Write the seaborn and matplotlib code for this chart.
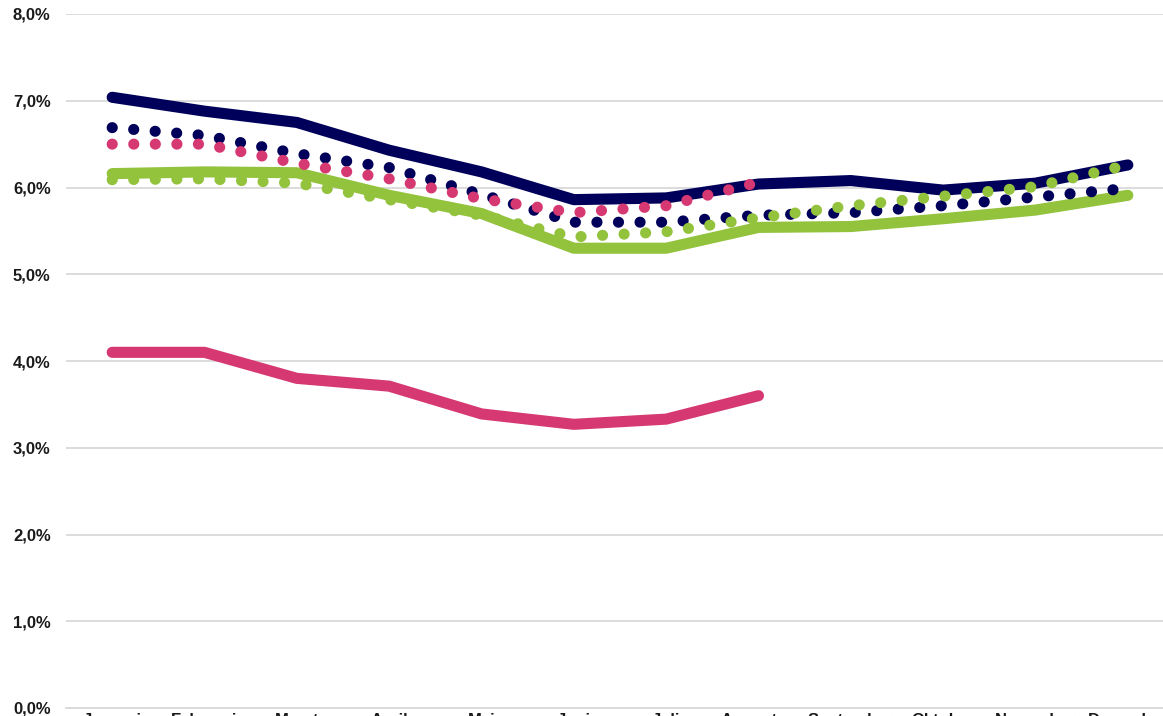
import numpy as np
import pandas as pd
import seaborn as sns
from matplotlib import pyplot as plt

# maanden (x-as)
maanden = ['Januari', 'Februari', 'Maart', 'April', 'Mei', 'Juni', 'Juli',
           'Augustus', 'September', 'Oktober', 'November', 'December']

# doorgetrokken lijnen (%)
navy_lijn = [7.04, 6.88, 6.75, 6.43, 6.18, 5.86, 5.88, 6.04, 6.08, 5.97, 6.05, 6.26]
groen_lijn = [6.16, 6.18, 6.17, 5.91, 5.70, 5.30, 5.30, 5.54, 5.55, 5.64, 5.74, 5.91]
roze_lijn = [4.10, 4.10, 3.80, 3.71, 3.39, 3.27, 3.33, 3.60]

# gestippelde lijnen (%)
navy_stip = [6.69, 6.60, 6.39, 6.23, 5.92, 5.60, 5.60, 5.68, 5.71, 5.79, 5.89, 5.99]
roze_stip = [6.50, 6.50, 6.28, 6.10, 5.87, 5.71, 5.79, 6.06]
groen_stip = [6.09, 6.10, 6.05, 5.86, 5.68, 5.43, 5.49, 5.65, 5.79, 5.90, 6.01, 6.26]

navy = '#00005a'
groen = '#93c23d'
roze = '#d63872'
grijs = '#d9d9d9'

sns.set_style('white')
plt.rcParams['font.family'] = ['Liberation Sans', 'DejaVu Sans']

fig = plt.figure(figsize=(11.63, 7.16), dpi=100)
ax = fig.add_axes([66 / 1163, 8 / 716, 1108 / 1163, 694 / 716])

pos = np.arange(len(maanden))
lw = 8
stip = (0, (0.01, 1.93))

series = [
    (navy_lijn, navy, '-'),
    (groen_lijn, groen, '-'),
    (roze_lijn, roze, '-'),
    (navy_stip, navy, stip),
    (roze_stip, roze, stip),
    (groen_stip, groen, stip),
]

for waarden, kleur, stijl in series:
    df = pd.DataFrame({'x': pos[:len(waarden)], 'y': waarden})
    sns.lineplot(data=df, x='x', y='y', ax=ax, color=kleur, linewidth=lw,
                 linestyle=stijl, sort=False, dash_capstyle='round',
                 solid_capstyle='round', solid_joinstyle='round')

ax.set_xlim(-0.5, 11.5)
ax.set_ylim(0, 8)

ax.set_yticks(range(0, 9))
ax.set_yticklabels([f'{v:.1f}%'.replace('.', ',') for v in range(0, 9)],
                   fontsize=12, fontweight='bold', color='#1a1a1a')
ax.set_xticks(pos)
ax.set_xticklabels(maanden, fontsize=12, fontweight='bold', color='#1a1a1a')
ax.set_xticks(np.arange(-0.5, 12, 1), minor=True)

ax.tick_params(axis='y', length=0, pad=11)
ax.tick_params(axis='x', which='major', length=0, pad=3.5)
ax.tick_params(axis='x', which='minor', length=20, width=1.2, color=grijs, direction='out')

ax.grid(axis='y', color=grijs, linewidth=1.3)
ax.set_axisbelow(True)
ax.set_xlabel('')
ax.set_ylabel('')

for kant in ['left', 'top', 'right']:
    ax.spines[kant].set_visible(False)
ax.spines['bottom'].set_color(grijs)
ax.spines['bottom'].set_linewidth(1.3)

fig.savefig('out.png', dpi=100)
